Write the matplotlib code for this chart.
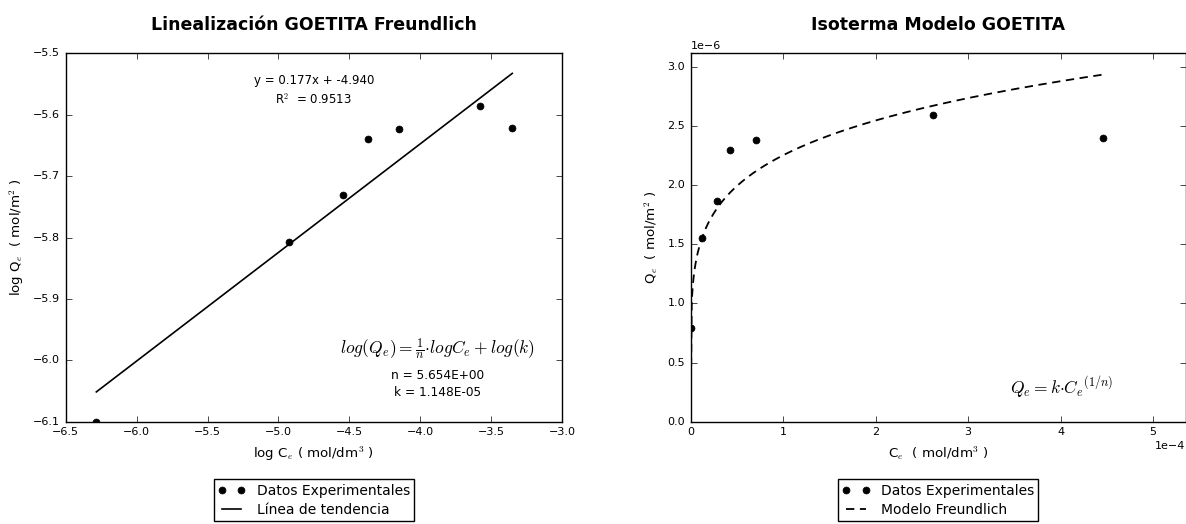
import numpy as np
import matplotlib
matplotlib.use("Agg")
import matplotlib.pyplot as plt
from matplotlib.ticker import ScalarFormatter, MultipleLocator

plt.style.use("classic")
plt.rcParams.update({
    "font.size": 8,
    "figure.facecolor": "white",
    "savefig.facecolor": "white",
    "mathtext.fontset": "cm",
})

# Experimental equilibrium data
Ce = [5.2e-7, 1.18e-5, 2.84e-5, 4.29e-5, 7.06e-5, 2.62e-4, 4.46e-4]   # mol/dm3
Qe = [7.94e-7, 1.556e-6, 1.862e-6, 2.296e-6, 2.382e-6, 2.594e-6, 2.393e-6]  # mol/m2

# Freundlich parameters
n_param = 5.654
k_param = 1.148e-5
r_squared = 0.9513

slope = 1.0 / n_param
intercept = np.log10(k_param)

logC = np.log10(Ce)
logQ = np.log10(Qe)

fig = plt.figure(figsize=(11.86, 5.24), dpi=100)
W, H = 1186.0, 524.0
ax1 = fig.add_axes([65.7 / W, (H - 421.7) / H, 496.3 / W, 368.4 / H])
ax2 = fig.add_axes([690.7 / W, (H - 421.7) / H, 495.0 / W, 368.4 / H])

title_kw = dict(fontweight="bold", fontsize=12.5, y=1.045)
label_size = 9.6
legend_kw = dict(loc="upper center", bbox_to_anchor=(0.5, -0.138), numpoints=2,
                 fontsize=10, borderpad=0.3, labelspacing=0.4, handlelength=2.0)

# --- Linearised Freundlich ---
ax1.plot(logC, logQ, "ko", markersize=5, label="Datos Experimentales")
xfit = np.array([logC.min(), logC.max()])
ax1.plot(xfit, slope * xfit + intercept, "k-", linewidth=1.2, label="Línea de tendencia")
ax1.set_xlim(-6.5, -3.0)
ax1.set_ylim(-6.1, -5.5)
ax1.set_title("Linealización GOETITA Freundlich", **title_kw)
ax1.set_xlabel("log C$_e$ ( mol/dm$^3$ )", fontsize=label_size)
ax1.set_ylabel("log Q$_e$  ( mol/m$^2$ )", fontsize=label_size)
ax1.text(0.5, 0.90, "y = %.3fx + %.3f\nR$^2$  = %.4f" % (slope, intercept, r_squared),
         transform=ax1.transAxes, ha="center", va="center", fontsize=8.5, linespacing=1.35)
ax1.text(0.75, 0.197, r"$log(Q_e) = \frac{1}{n}{\cdot}logC_e + log(k)$",
         transform=ax1.transAxes, ha="center", va="center", fontsize=12.5)
ax1.text(0.75, 0.101, "n = %.3E\nk = %.3E" % (n_param, k_param),
         transform=ax1.transAxes, ha="center", va="center", fontsize=8.7, linespacing=1.4)
ax1.legend(**legend_kw)

# --- Freundlich isotherm ---
ax2.plot(Ce, Qe, "ko", markersize=5, label="Datos Experimentales")
Cmod = np.linspace(0, max(Ce), 400)
ax2.plot(Cmod, k_param * Cmod ** slope, "k--", dashes=(6, 4), linewidth=1.3,
         label="Modelo Freundlich")
ax2.set_xlim(0, 1.2 * max(Ce))
ax2.set_ylim(0, 1.2 * max(Qe))
ax2.xaxis.set_major_locator(MultipleLocator(1e-4))
ax2.yaxis.set_major_locator(MultipleLocator(0.5e-6))
for axis in (ax2.xaxis, ax2.yaxis):
    fmt = ScalarFormatter(useMathText=False)
    fmt.set_powerlimits((0, 0))
    axis.set_major_formatter(fmt)
ax2.set_title("Isoterma Modelo GOETITA", **title_kw)
ax2.set_xlabel("C$_e$  ( mol/dm$^3$ )", fontsize=label_size)
ax2.set_ylabel("Q$_e$  ( mol/m$^2$ )", fontsize=label_size)
ax2.text(0.75, 0.095, r"$Q_e = k{\cdot}{C_e}^{(1/n)}$",
         transform=ax2.transAxes, ha="center", va="center", fontsize=12.5)
ax2.legend(**legend_kw)

fig.savefig("out.png", dpi=100)
